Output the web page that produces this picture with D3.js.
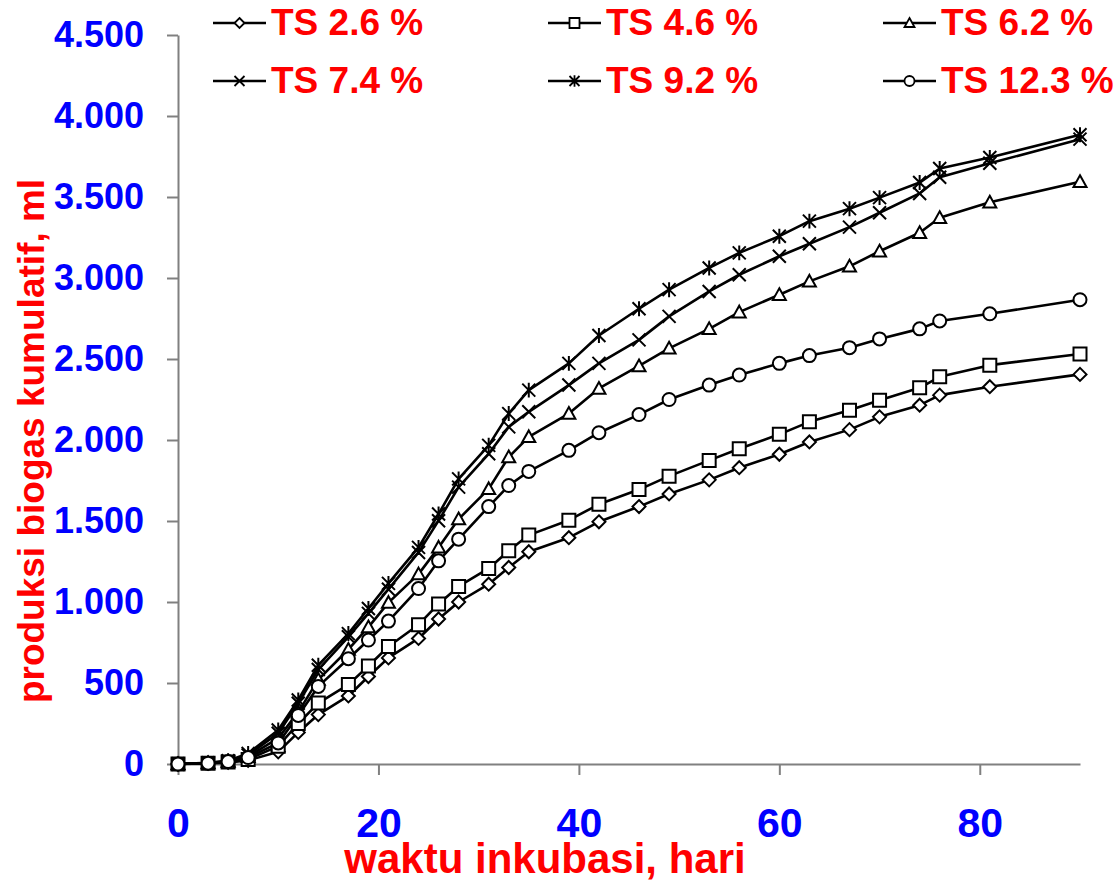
<!DOCTYPE html>
<html>
<head>
<meta charset="utf-8">
<script src="https://cdn.jsdelivr.net/npm/d3@7"></script>
<style>
  html, body { margin: 0; padding: 0; background: #fff; }
  svg { display: block; }
  text { font-family: "Liberation Sans", Arial, sans-serif; font-weight: bold; }
</style>
</head>
<body>
<svg id="chart" width="1117" height="884"></svg>
<script>
// ---- data ----
const days = [0, 3, 5, 7, 10, 12, 14, 17, 19, 21, 24, 26, 28, 31, 33, 35, 39, 42, 46, 49, 53, 56, 60, 63, 67, 70, 74, 76, 81, 90];
const ts26 = [0, 4, 10, 22, 75, 195, 305, 420, 540, 655, 775, 895, 1000, 1110, 1213, 1310, 1397, 1495, 1589, 1667, 1754, 1829, 1912, 1988, 2064, 2143, 2215, 2277, 2329, 2405];
const ts46 = [0, 5, 12, 28, 110, 250, 376, 490, 605, 725, 860, 988, 1096, 1207, 1316, 1413, 1505, 1603, 1694, 1777, 1874, 1946, 2035, 2112, 2184, 2246, 2322, 2390, 2462, 2531];
const ts62 = [0, 6, 15, 45, 160, 320, 521, 707, 845, 996, 1172, 1337, 1512, 1698, 1895, 2019, 2163, 2318, 2457, 2566, 2686, 2789, 2897, 2979, 3072, 3165, 3279, 3372, 3467, 3594];
const ts74 = [0, 6, 18, 55, 190, 375, 583, 785, 930, 1079, 1306, 1502, 1709, 1915, 2081, 2174, 2339, 2473, 2618, 2763, 2917, 3020, 3134, 3211, 3314, 3403, 3522, 3622, 3708, 3857];
const ts92 = [0, 7, 20, 65, 210, 395, 610, 805, 960, 1115, 1337, 1543, 1760, 1967, 2163, 2308, 2473, 2645, 2810, 2928, 3062, 3155, 3258, 3351, 3428, 3496, 3589, 3676, 3744, 3884];
const ts123 = [0, 5, 15, 40, 130, 300, 479, 650, 765, 882, 1083, 1254, 1388, 1589, 1719, 1806, 1936, 2045, 2157, 2250, 2339, 2401, 2473, 2521, 2570, 2624, 2686, 2735, 2779, 2866];
const seriesNames = ["TS 2.6 %", "TS 4.6 %", "TS 6.2 %", "TS 7.4 %", "TS 9.2 %", "TS 12.3 %"];
const seriesMarkers = ["diamond", "square", "triangle", "cross", "star", "circle"];
const xTickValues = [0, 20, 40, 60, 80];
const yTickValues = [0, 500, 1000, 1500, 2000, 2500, 3000, 3500, 4000, 4500];
const xTitle = "waktu inkubasi, hari";
const yTitle = "produksi biogas kumulatif, ml";

const seriesValues = [ts26, ts46, ts62, ts74, ts92, ts123];
const series = seriesNames.map((name, i) => ({
  name, marker: seriesMarkers[i],
  points: days.map((d, j) => ({ x: d, y: seriesValues[i][j] }))
}));

// ---- layout ----
const svg = d3.select("#chart");
const x = d3.scaleLinear().domain([0, 90]).range([178, 1080]);
const y = d3.scaleLinear().domain([0, 4500]).range([764, 35]);

const locale = d3.formatLocale({ decimal: ",", thousands: ".", grouping: [3], currency: ["", ""] });
const fmt = locale.format(",");

// marker path generators (size = full width)
function markerPath(type, s) {
  const h = s / 2;
  switch (type) {
    case "diamond": return `M0,${-h}L${h},0L0,${h}L${-h},0Z`;
    case "square": return `M${-h},${-h}H${h}V${h}H${-h}Z`;
    case "triangle": return `M0,${-h}L${h},${h * 0.8}L${-h},${h * 0.8}Z`;
    case "cross": return `M${-h},${-h}L${h},${h}M${-h},${h}L${h},${-h}`;
    case "star": return `M${-h},${-h}L${h},${h}M${-h},${h}L${h},${-h}M0,${-h * 1.15}V${h * 1.15}`;
    case "circle": return d3.arc()({ innerRadius: 0, outerRadius: h, startAngle: 0, endAngle: 2 * Math.PI });
  }
}

// ---- axes ----
const yAxis = d3.axisLeft(y).tickValues(yTickValues).tickSize(11).tickSizeOuter(0).tickPadding(23).tickFormat(fmt);
const gy = svg.append("g").attr("transform", `translate(${x(0)},0)`).call(yAxis);
const xAxis = d3.axisBottom(x).tickValues(xTickValues).tickSize(11).tickSizeOuter(0).tickPadding(33).tickFormat(d3.format("d"));
const gx = svg.append("g").attr("transform", `translate(0,${y(0)})`).call(xAxis);

[gx, gy].forEach(g => {
  g.select(".domain").attr("stroke", "#808080").attr("stroke-width", 2);
  g.selectAll(".tick line").attr("stroke", "#808080").attr("stroke-width", 2);
  g.selectAll(".tick text").attr("fill", "#0000FF").attr("font-family", "'Liberation Sans', Arial, sans-serif").attr("font-weight", "bold");
});
gy.selectAll(".tick text").attr("font-size", 36);
gx.selectAll(".tick text").attr("font-size", 41);

// ---- series ----
const line = d3.line().x(d => x(d.x)).y(d => y(d.y));
const gSeries = svg.append("g");
series.forEach(s => {
  gSeries.append("path").datum(s.points)
    .attr("d", line).attr("fill", "none").attr("stroke", "#000").attr("stroke-width", 2.6)
    .attr("stroke-linejoin", "round");
});
series.forEach(s => {
  gSeries.append("g").selectAll("path").data(s.points).join("path")
    .attr("transform", d => `translate(${x(d.x)},${y(d.y)})`)
    .attr("d", markerPath(s.marker, 13))
    .attr("fill", s.marker === "cross" || s.marker === "star" ? "none" : "#fff")
    .attr("stroke", "#000").attr("stroke-width", 2);
});

// ---- titles ----
svg.append("text").attr("x", 545).attr("y", 873).attr("text-anchor", "middle")
  .attr("font-size", 42).attr("fill", "#FF0000").text(xTitle);
svg.append("text").attr("transform", `translate(44,441) rotate(-90)`).attr("text-anchor", "middle")
  .attr("font-size", 37).attr("fill", "#FF0000").text(yTitle);

// ---- legend ----
const legendCols = [213, 548, 883];
const legendRows = [23, 81];
const legend = svg.append("g");
series.forEach((s, i) => {
  const lx = legendCols[i % 3], ly = legendRows[Math.floor(i / 3)];
  const g = legend.append("g").attr("transform", `translate(${lx},${ly})`);
  g.append("line").attr("x1", 0).attr("x2", 53).attr("y1", 0).attr("y2", 0)
    .attr("stroke", "#000").attr("stroke-width", 2.6);
  g.append("path").attr("transform", "translate(26.5,0)").attr("d", markerPath(s.marker, 10))
    .attr("fill", s.marker === "cross" || s.marker === "star" ? "none" : "#fff")
    .attr("stroke", "#000").attr("stroke-width", 1.8);
  g.append("text").attr("x", 58).attr("y", 12).attr("font-size", 37).attr("fill", "#FF0000").text(s.name);
});
</script>
</body>
</html>
